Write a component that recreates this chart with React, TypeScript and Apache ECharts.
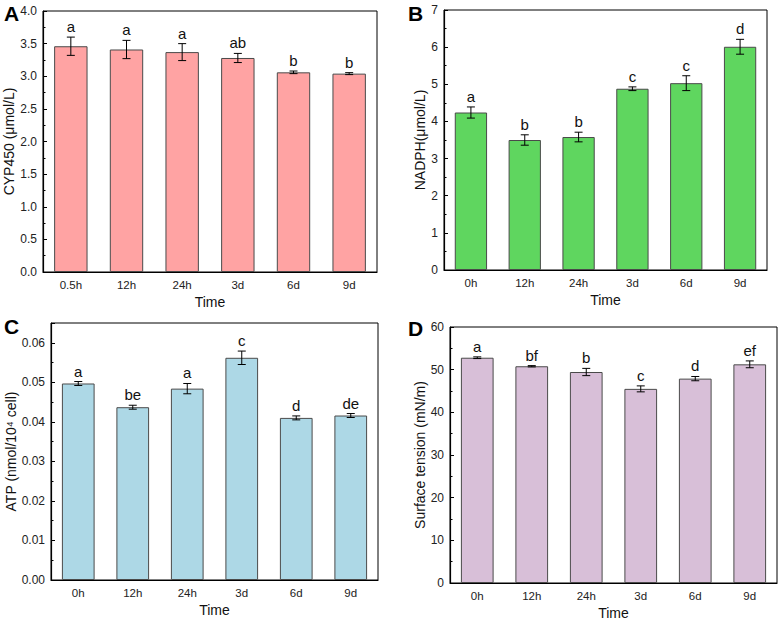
import React, { useEffect, useRef } from "react";
import * as echarts from "echarts";

// Sampling times
const timesA = ["0.5h", "12h", "24h", "3d", "6d", "9d"];
const timesBCD = ["0h", "12h", "24h", "3d", "6d", "9d"];

// A: CYP450 (μmol/L)
const cypMean = [3.46, 3.41, 3.37, 3.28, 3.06, 3.04];
const cypErr = [0.14, 0.14, 0.13, 0.07, 0.02, 0.015];
const cypLetters = ["a", "a", "a", "ab", "b", "b"];

// B: NADPH (μmol/L)
const nadphMean = [4.24, 3.5, 3.58, 4.88, 5.03, 6.01];
const nadphErr = [0.15, 0.14, 0.13, 0.05, 0.2, 0.2];
const nadphLetters = ["a", "b", "b", "c", "c", "d"];

// C: ATP (nmol/10^4 cell)
const atpMean = [0.0497, 0.0437, 0.0484, 0.0562, 0.041, 0.0416];
const atpErr = [0.0005, 0.0005, 0.0013, 0.0017, 0.0005, 0.0005];
const atpLetters = ["a", "be", "a", "c", "d", "de"];

// D: Surface tension (mN/m)
const stMean = [52.8, 50.8, 49.45, 45.5, 47.9, 51.25];
const stErr = [0.2, 0.15, 0.85, 0.7, 0.5, 0.8];
const stLetters = ["a", "bf", "b", "c", "d", "ef"];

const FONT = "Liberation Sans, Arial, Helvetica, sans-serif";

type Panel = {
  tag: string;
  tagX: number;
  tagY: number;
  grid: { left: number; top: number; width: number; height: number };
  categories: string[];
  mean: number[];
  err: number[];
  letters: string[];
  color: string;
  yName: string;
  yNameGap: number;
  yMax: number;
  yInterval: number;
  decimals: number;
};

const panels: Panel[] = [
  {
    tag: "A", tagX: 4, tagY: 3,
    grid: { left: 43, top: 11, width: 334, height: 261 },
    categories: timesA, mean: cypMean, err: cypErr, letters: cypLetters,
    color: "#FFA3A3", yName: "CYP450 (μmol/L)", yNameGap: 24,
    yMax: 4, yInterval: 0.5, decimals: 1,
  },
  {
    tag: "B", tagX: 408, tagY: 3,
    grid: { left: 444, top: 10, width: 323, height: 260 },
    categories: timesBCD, mean: nadphMean, err: nadphErr, letters: nadphLetters,
    color: "#5FD65F", yName: "NADPH(μmol/L)", yNameGap: 14,
    yMax: 7, yInterval: 1, decimals: 0,
  },
  {
    tag: "C", tagX: 4, tagY: 316,
    grid: { left: 51, top: 323, width: 327, height: 257 },
    categories: timesBCD, mean: atpMean, err: atpErr, letters: atpLetters,
    color: "#ADD8E6", yName: "ATP (nmol/10⁴ cell)", yNameGap: 32,
    yMax: 0.065, yInterval: 0.01, decimals: 2,
  },
  {
    tag: "D", tagX: 408, tagY: 318,
    grid: { left: 450, top: 327, width: 327, height: 256 },
    categories: timesBCD, mean: stMean, err: stErr, letters: stLetters,
    color: "#D8BFD8", yName: "Surface tension (mN/m)", yNameGap: 22,
    yMax: 60, yInterval: 10, decimals: 0,
  },
];

function buildOption() {
  const grid: any[] = [];
  const xAxis: any[] = [];
  const yAxis: any[] = [];
  const series: any[] = [];
  const graphic: any[] = [];

  panels.forEach((p, i) => {
    grid.push({
      ...p.grid,
      show: true,
      borderColor: "#000",
      borderWidth: 1,
      backgroundColor: "transparent",
      containLabel: false,
    });
    xAxis.push({
      type: "category",
      gridIndex: i,
      data: p.categories,
      boundaryGap: true,
      name: "Time",
      nameLocation: "middle",
      nameGap: 23,
      nameTextStyle: { fontFamily: FONT, fontSize: 14, color: "#111" },
      axisLine: { lineStyle: { color: "#000", width: 1.2 } },
      axisTick: { show: false },
      axisLabel: { fontFamily: FONT, fontSize: 11.5, color: "#222", margin: 7 },
      splitLine: { show: false },
    });
    yAxis.push({
      type: "value",
      gridIndex: i,
      min: 0,
      max: p.yMax,
      interval: p.yInterval,
      name: p.yName,
      nameLocation: "middle",
      nameRotate: 90,
      nameGap: p.yNameGap,
      nameTextStyle: { fontFamily: FONT, fontSize: 14, color: "#111" },
      axisLine: { show: true, lineStyle: { color: "#000", width: 1.2 } },
      axisTick: { show: true, inside: true, length: 4, lineStyle: { color: "#000" } },
      minorTick: { show: true, splitNumber: 2, length: 2.5, lineStyle: { color: "#000" } },
      axisLabel: {
        fontFamily: FONT,
        fontSize: 12,
        color: "#222",
        margin: 6,
        showMaxLabel: p.tag !== "C",
        formatter: (v: number) => v.toFixed(p.decimals),
      },
      splitLine: { show: false },
    });

    series.push({
      type: "bar",
      xAxisIndex: i,
      yAxisIndex: i,
      data: p.mean,
      barWidth: "60%",
      itemStyle: { color: p.color, borderColor: "#4a4a4a", borderWidth: 1 },
      z: 2,
    });

    const letters = p.letters;
    series.push({
      type: "custom",
      xAxisIndex: i,
      yAxisIndex: i,
      z: 5,
      data: p.mean.map((m, k) => [k, m, p.err[k]]),
      renderItem: (params: any, api: any) => {
        const x = api.value(0);
        const y = api.value(1);
        const e = api.value(2);
        const top = api.coord([x, y + e]);
        const bot = api.coord([x, y - e]);
        const cap = 4;
        const ls = { stroke: "#000", lineWidth: 1 };
        return {
          type: "group",
          children: [
            { type: "line", shape: { x1: top[0], y1: top[1], x2: bot[0], y2: bot[1] }, style: ls },
            { type: "line", shape: { x1: top[0] - cap, y1: top[1], x2: top[0] + cap, y2: top[1] }, style: ls },
            { type: "line", shape: { x1: bot[0] - cap, y1: bot[1], x2: bot[0] + cap, y2: bot[1] }, style: ls },
            {
              type: "text",
              x: top[0],
              y: top[1] - 3,
              style: {
                text: letters[params.dataIndex],
                fontFamily: FONT,
                fontSize: 15,
                fill: "#111",
                align: "center",
                verticalAlign: "bottom",
              },
            },
          ],
        };
      },
    });

    graphic.push({
      type: "text",
      left: p.tagX,
      top: p.tagY,
      style: {
        text: p.tag,
        fontFamily: FONT,
        fontSize: 21,
        fontWeight: "bold",
        fill: "#000",
      },
    });
  });

  return {
    animation: false,
    backgroundColor: "#fff",
    grid,
    xAxis,
    yAxis,
    series,
    graphic,
  };
}

export default function App() {
  const ref = useRef<HTMLDivElement>(null);
  useEffect(() => {
    if (!ref.current) return;
    const chart = echarts.init(ref.current, undefined, { renderer: "svg" });
    chart.setOption(buildOption());
    return () => chart.dispose();
  }, []);
  return (
    <div
      ref={ref}
      style={{ position: "fixed", left: 0, top: 0, width: 784, height: 628, background: "#fff" }}
    />
  );
}
